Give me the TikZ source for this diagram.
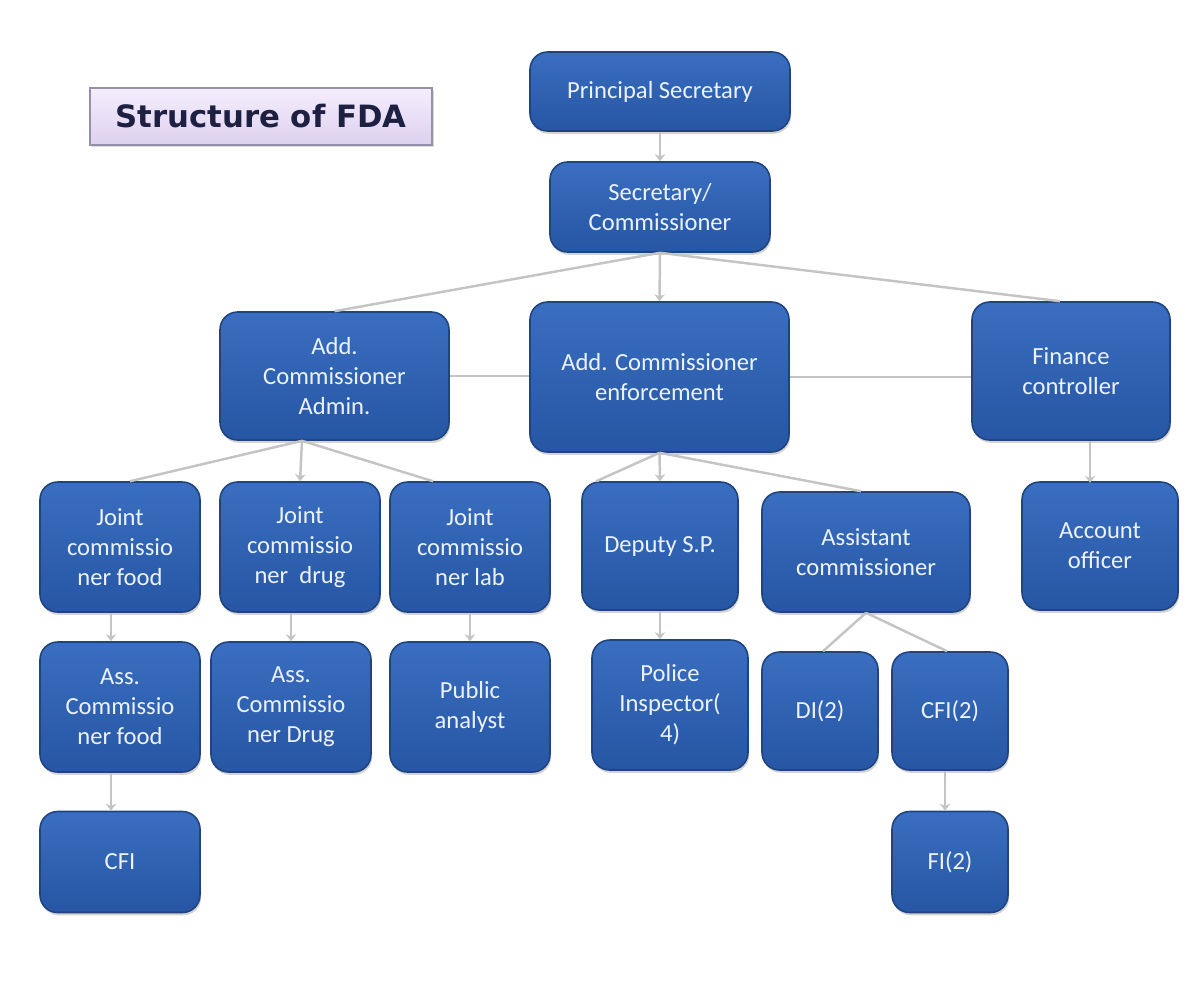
\documentclass[tikz,border=0pt]{standalone}
\usepackage{fontspec}
\setmainfont{Carlito}
\newfontfamily\titlefont{DejaVu Sans}
\usetikzlibrary{arrows.meta,shadows,calc}

\definecolor{boxtop}{RGB}{58,110,192}
\definecolor{boxbot}{RGB}{38,86,164}
\definecolor{boxline}{RGB}{32,68,128}
\definecolor{boxtext}{RGB}{236,242,252}
\definecolor{linkgrey}{RGB}{196,196,196}
\definecolor{titletop}{RGB}{244,238,252}
\definecolor{titlebot}{RGB}{222,208,240}
\definecolor{titleline}{RGB}{150,144,166}
\definecolor{titletext}{RGB}{30,32,66}

\begin{document}
\begin{tikzpicture}[
	post/.style={rounded corners=10pt, draw=boxline, line width=0.9pt, top color=boxtop, bottom color=boxbot,
		text=boxtext, align=center, font=\fontsize{14}{17}\selectfont, inner sep=2pt,
		drop shadow={opacity=0.35, shadow xshift=0.6pt, shadow yshift=-1.6pt}},
	link/.style={draw=linkgrey, line width=1.4pt},
	feed/.style={link, -{Stealth[length=4pt,width=6pt]}}
]
	\useasboundingbox (0,0) rectangle (24,-19.62);
	% title
	\node (title) [draw=titleline, line width=1.2pt, top color=titletop, bottom color=titlebot, text=titletext,
		minimum width=6.84cm, minimum height=1.14cm, font=\titlefont\bfseries\fontsize{17.5}{20}\selectfont,
		drop shadow={opacity=0.3, shadow xshift=1pt, shadow yshift=-1pt}] at (5.22,-2.33) {Structure of FDA};
	% top levels
	\node (ps) [post, minimum width=5.2cm, minimum height=1.58cm] at (13.2,-1.83) {Principal Secretary};
	\node (sec) [post, minimum width=4.4cm, minimum height=1.8cm] at (13.2,-4.14) {Secretary/\\Commissioner};
	\node (adm) [post, minimum width=4.58cm, minimum height=2.56cm] at (6.69,-7.52) {Add.\\Commissioner\\Admin.};
	\node (enf) [post, minimum width=5.18cm, minimum height=3cm] at (13.19,-7.54) {Add. Commissioner\\enforcement};
	\node (fin) [post, minimum width=3.96cm, minimum height=2.76cm] at (21.42,-7.42) {Finance\\controller};
	% joint commissioners and others
	\node (jcf) [post, minimum width=3.2cm, minimum height=2.6cm] at (2.4,-10.94) {Joint\\commissio\\ner food};
	\node (jcd) [post, minimum width=3.2cm, minimum height=2.6cm] at (6.0,-10.94) {Joint\\commissio\\ner\ \ drug};
	\node (jcl) [post, minimum width=3.2cm, minimum height=2.6cm] at (9.4,-10.94) {Joint\\commissio\\ner lab};
	\node (dsp) [post, minimum width=3.12cm, minimum height=2.56cm] at (13.2,-10.92) {Deputy S.P.};
	\node (ac) [post, minimum width=4.16cm, minimum height=2.4cm] at (17.32,-11.04) {Assistant\\commissioner};
	\node (ao) [post, minimum width=3.12cm, minimum height=2.56cm] at (22.0,-10.92) {Account\\officer};
	% lower levels
	\node (asf) [post, minimum width=3.2cm, minimum height=2.6cm] at (2.4,-14.14) {Ass.\\Commissio\\ner food};
	\node (asd) [post, minimum width=3.2cm, minimum height=2.6cm] at (5.82,-14.14) {Ass.\\Commissio\\ner Drug};
	\node (pa) [post, minimum width=3.2cm, minimum height=2.6cm] at (9.4,-14.14) {Public\\analyst};
	\node (pi) [post, minimum width=3.12cm, minimum height=2.6cm] at (13.4,-14.1) {Police\\Inspector(\\4)};
	\node (di) [post, minimum width=2.32cm, minimum height=2.36cm] at (16.4,-14.22) {DI(2)};
	\node (cfitwo) [post, minimum width=2.32cm, minimum height=2.36cm] at (19.0,-14.22) {CFI(2)};
	\node (cfi) [post, minimum width=3.2cm, minimum height=2.02cm] at (2.4,-17.24) {CFI};
	\node (fi) [post, minimum width=2.32cm, minimum height=2.02cm] at (19.0,-17.24) {FI(2)};
	% connectors
	\coordinate (admfan) at ($(adm.south)+(-0.65,0)$);
	\draw [feed] (ps) -- (sec);
	\draw [link] (sec.south) -- (adm.north);
	\draw [feed] (sec.south) -- (enf.north);
	\draw [link] (sec.south) -- ($(fin.north)+(-0.22,0)$);
	\draw [link] (adm.east) -- (adm.east -| enf.west);
	\draw [link] (enf.east) -- (enf.east -| fin.west);
	\draw [feed] (ao.north |- fin.south) ++(-0.2,0) -- ++(0,-0.84);
	\draw [link] (admfan) -- ($(jcf.north)+(0.2,0)$);
	\draw [feed] (admfan) -- (jcd.north);
	\draw [link] (admfan) -- ($(jcl.north)+(-0.74,0)$);
	\draw [feed] ($(jcf.south)+(-0.18,0)$) -- ($(asf.north)+(-0.18,0)$);
	\draw [feed] (asd.north |- jcd.south) -- (asd.north);
	\draw [feed] (jcl.south) -- (pa.north);
	\draw [feed] ($(asf.south)+(-0.18,0)$) -- ($(cfi.north)+(-0.18,0)$);
	\draw [link] (enf.south) -- ($(dsp.north west)+(0.3,0)$);
	\draw [feed] (enf.south) -- (dsp.north);
	\draw [link] (enf.south) -- ($(ac.north)+(-0.1,0)$);
	\draw [feed] (dsp.south) -- (dsp.south |- pi.north);
	\draw [link] (ac.south) -- ($(di.north)+(0.06,0)$);
	\draw [link] (ac.south) -- ($(cfitwo.north)+(-0.06,0)$);
	\draw [feed] ($(cfitwo.south)+(-0.1,0)$) -- ($(fi.north)+(-0.1,0)$);
\end{tikzpicture}
\end{document}
